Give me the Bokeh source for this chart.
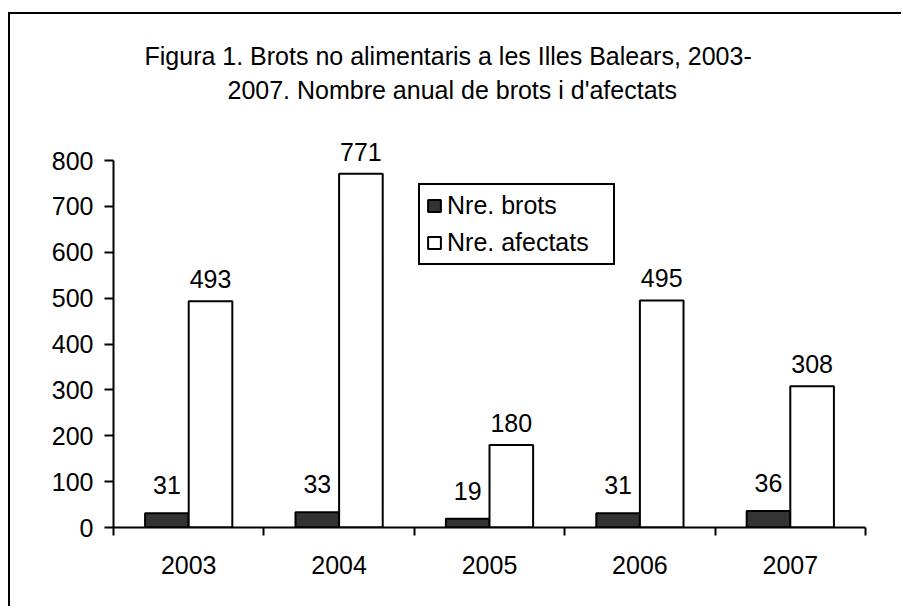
from bokeh.plotting import figure
from bokeh.models import (ColumnDataSource, Range1d, FixedTicker, Legend, LegendItem,
                          LabelSet, Title)
from bokeh.core.properties import value
from bokeh.embed import file_html
from bokeh.resources import INLINE

years = ["2003", "2004", "2005", "2006", "2007"]
brots = [31, 33, 19, 31, 36]
afectats = [493, 771, 180, 495, 308]
y_ticks = [0, 100, 200, 300, 400, 500, 600, 700, 800]
title_lines = ["Figura 1. Brots no alimentaris a les Illes Balears, 2003-",
               "2007. Nombre anual de brots i d'afectats"]

FONT = "Liberation Sans"
FS = "25px"
BW = 0.29
Y_TOP = 920  # frame extends above the 800 axis end to leave room for labels/titles

idx = list(range(len(years)))
centers = [i + 0.5 for i in idx]
src = ColumnDataSource(dict(
    x=centers,
    xb=[c - BW / 2 for c in centers],
    xa=[c + BW / 2 for c in centers],
    brots=brots,
    afectats=afectats,
    lb=[str(v) for v in brots],
    la=[str(v) for v in afectats],
))

p = figure(width=893, height=594, output_backend="svg", toolbar_location=None,
           x_range=Range1d(0, len(years)), y_range=Range1d(0, Y_TOP),
           min_border_left=103, min_border_right=38, min_border_top=91,
           min_border_bottom=81, title=None)
p.styles = {"position": "relative", "left": "10px", "top": "14px",
            "box-shadow": "-2px -2px 0 0 #000000"}
p.background_fill_color = "white"
p.border_fill_color = "white"
p.outline_line_color = None
p.grid.visible = False

t2 = Title(text=title_lines[1], align="left", text_font=FONT, text_font_size=FS,
           text_font_style="normal", text_color="black", offset=114, standoff=4)
t1 = Title(text=title_lines[0], align="left", text_font=FONT, text_font_size=FS,
           text_font_style="normal", text_color="black", offset=31, standoff=4)
p.add_layout(t2, "above")
p.add_layout(t1, "above")

r1 = p.vbar(x="xb", top="brots", width=BW, source=src, fill_color="#333333",
            line_color="black", line_width=2)
r2 = p.vbar(x="xa", top="afectats", width=BW, source=src, fill_color="white",
            line_color="black", line_width=2)

for xcol, ycol, tcol, off in [("xb", "brots", "lb", 19), ("xa", "afectats", "la", 13)]:
    p.add_layout(LabelSet(x=xcol, y=ycol, text=tcol, source=src, text_align="center",
                          text_baseline="alphabetic", y_offset=off,
                          text_font=value(FONT), text_font_size=value(FS),
                          text_color="black"))

xa = p.xaxis[0]
xa.ticker = FixedTicker(ticks=centers, minor_ticks=[float(i) for i in range(len(years) + 1)])
xa.major_label_overrides = {c: y for c, y in zip(centers, years)}
xa.major_tick_line_color = None
xa.minor_tick_out = 8
xa.minor_tick_in = 0
xa.minor_tick_line_width = 2
xa.minor_tick_line_color = "black"
xa.axis_line_width = 2
xa.axis_line_color = "black"
xa.major_label_text_font = FONT
xa.major_label_text_font_size = FS
xa.major_label_text_color = "black"
xa.major_label_standoff = 20

ya = p.yaxis[0]
ya.ticker = FixedTicker(ticks=y_ticks, minor_ticks=[])
ya.bounds = (y_ticks[0], y_ticks[-1])
ya.major_tick_out = 9
ya.major_tick_in = 0
ya.major_tick_line_width = 2
ya.axis_line_width = 2
ya.axis_line_color = "black"
ya.major_label_text_font = FONT
ya.major_label_text_font_size = FS
ya.major_label_text_color = "black"
ya.major_label_standoff = 11

legend = Legend(items=[LegendItem(label="Nre. brots", renderers=[r1]),
                       LegendItem(label="Nre. afectats", renderers=[r2])],
                location=(305, 262))
legend.label_text_font = FONT
legend.label_text_font_size = FS
legend.label_text_color = "black"
legend.border_line_color = "black"
legend.border_line_width = 2
legend.border_line_alpha = 1
legend.background_fill_color = "white"
legend.background_fill_alpha = 1
legend.glyph_width = 16
legend.glyph_height = 15
legend.label_height = 29
legend.label_width = 160
legend.label_standoff = 5
legend.spacing = 8
legend.padding = 6
legend.margin = 0
p.add_layout(legend, "center")

open("out.html", "w").write(file_html(p, INLINE))
